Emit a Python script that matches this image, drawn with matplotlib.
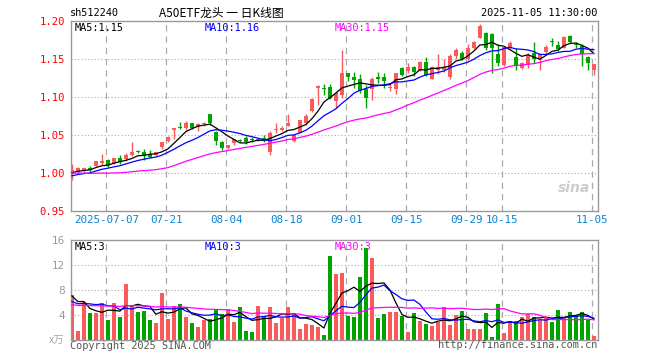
import matplotlib
matplotlib.use("Agg")
import matplotlib.pyplot as plt
import numpy as np
import pandas as pd

# Schriften: Monospace fuer Zahlen, CJK fuer den Titel
plt.rcParams['font.family'] = ['DejaVu Sans Mono', 'Noto Sans CJK SC']

# Handelstage 27.06. - 05.11.2025 (ohne Nationalfeiertage 01.10.-08.10.)
dates = pd.bdate_range("2025-06-27", "2025-11-05")
dates = dates[(dates < "2025-10-01") | (dates > "2025-10-08")]

open_ = [0.998, 1.001, 1.004, 1.006, 1.009, 1.013, 1.017, 1.013, 1.019, 1.0185,
         1.024, 1.029, 1.028, 1.025, 1.024, 1.034, 1.042, 1.057, 1.060, 1.059,
         1.066, 1.060, 1.064, 1.077, 1.054, 1.041, 1.033, 1.039, 1.043, 1.046,
         1.044, 1.043, 1.045, 1.027, 1.056, 1.057, 1.062, 1.042, 1.053, 1.065,
         1.082, 1.112, 1.112, 1.113, 1.094, 1.102, 1.131, 1.126, 1.124, 1.110,
         1.110, 1.126, 1.126, 1.112, 1.111, 1.138, 1.134, 1.140, 1.135, 1.146,
         1.124, 1.135, 1.135, 1.126, 1.154, 1.158, 1.150, 1.165, 1.178, 1.184,
         1.183, 1.157, 1.142, 1.164, 1.152, 1.138, 1.143, 1.158, 1.150, 1.159,
         1.173, 1.168, 1.165, 1.180, 1.170, 1.167, 1.152, 1.136]
high = [1.012, 1.008, 1.008, 1.009, 1.015, 1.025, 1.018, 1.019, 1.023, 1.026,
        1.041, 1.030, 1.031, 1.030, 1.028, 1.041, 1.048, 1.059, 1.067, 1.068,
        1.066, 1.065, 1.067, 1.077, 1.055, 1.042, 1.037, 1.045, 1.045, 1.048,
        1.047, 1.045, 1.050, 1.055, 1.066, 1.062, 1.077, 1.051, 1.070, 1.077,
        1.099, 1.115, 1.117, 1.117, 1.108, 1.162, 1.132, 1.133, 1.130, 1.116,
        1.126, 1.133, 1.131, 1.117, 1.132, 1.140, 1.145, 1.141, 1.147, 1.152,
        1.141, 1.156, 1.150, 1.156, 1.165, 1.161, 1.170, 1.174, 1.196, 1.186,
        1.184, 1.170, 1.167, 1.174, 1.165, 1.146, 1.158, 1.172, 1.158, 1.169,
        1.177, 1.174, 1.180, 1.182, 1.172, 1.170, 1.154, 1.143]
low = [0.990, 0.999, 1.000, 1.001, 1.009, 1.010, 1.008, 1.011, 1.012, 1.016,
       1.022, 1.026, 1.017, 1.019, 1.022, 1.031, 1.040, 1.044, 1.058, 1.057,
       1.058, 1.055, 1.062, 1.063, 1.036, 1.030, 1.031, 1.036, 1.040, 1.038,
       1.040, 1.042, 1.041, 1.024, 1.053, 1.055, 1.061, 1.040, 1.052, 1.063,
       1.080, 1.089, 1.102, 1.097, 1.085, 1.099, 1.121, 1.112, 1.105, 1.086,
       1.096, 1.118, 1.112, 1.108, 1.104, 1.127, 1.131, 1.128, 1.134, 1.127,
       1.123, 1.130, 1.133, 1.124, 1.150, 1.148, 1.148, 1.163, 1.177, 1.162,
       1.131, 1.141, 1.141, 1.163, 1.136, 1.137, 1.138, 1.145, 1.136, 1.157,
       1.167, 1.161, 1.164, 1.171, 1.165, 1.141, 1.136, 1.129]
close = [1.003, 1.006, 1.006, 1.004, 1.015, 1.015, 1.010, 1.019, 1.014, 1.024,
         1.027, 1.028, 1.022, 1.021, 1.027, 1.040, 1.047, 1.059, 1.059, 1.066,
         1.059, 1.064, 1.066, 1.065, 1.042, 1.033, 1.036, 1.044, 1.042, 1.041,
         1.043, 1.044, 1.044, 1.053, 1.058, 1.059, 1.065, 1.050, 1.069, 1.075,
         1.097, 1.114, 1.111, 1.098, 1.105, 1.131, 1.126, 1.122, 1.108, 1.099,
         1.124, 1.124, 1.121, 1.113, 1.131, 1.129, 1.140, 1.133, 1.146, 1.129,
         1.140, 1.140, 1.140, 1.154, 1.162, 1.150, 1.164, 1.172, 1.194, 1.165,
         1.165, 1.144, 1.166, 1.171, 1.141, 1.145, 1.155, 1.150, 1.157, 1.166,
         1.172, 1.163, 1.179, 1.172, 1.169, 1.156, 1.145, 1.143]
# Volumen in 10.000 (万)
volume = [7.25, 1.5, 6.1, 4.4, 4.4, 6.0, 3.2, 6.0, 3.7, 9.0,
          5.6, 4.5, 4.7, 3.25, 2.8, 7.6, 3.4, 5.5, 5.8, 3.7,
          2.8, 2.1, 3.2, 3.4, 5.0, 4.2, 5.0, 2.9, 5.3, 1.5,
          1.3, 5.5, 3.9, 5.3, 2.8, 3.6, 5.3, 4.4, 1.8, 2.6,
          2.5, 2.1, 0.85, 13.5, 10.6, 10.8, 3.9, 3.7, 10.1, 14.8,
          13.2, 3.6, 4.2, 4.5, 4.5, 3.9, 1.3, 4.4, 3.1, 2.6,
          2.3, 2.9, 5.3, 2.5, 4.05, 4.7, 1.8, 1.8, 1.8, 4.4,
          0.5, 5.8, 1.2, 3.1, 3.1, 3.7, 4.2, 3.7, 3.25, 3.7,
          2.9, 4.85, 3.6, 4.5, 4.05, 4.5, 3.25, 0.7]

# geschaetzte Werte vor dem sichtbaren Fenster (nur fuer die gleitenden Durchschnitte)
prior_close = [1.012, 1.010, 1.011, 1.009, 1.010, 1.012, 1.011,
               1.008, 1.006, 1.004, 1.003, 1.002, 1.005, 1.004, 1.003, 1.005,
               0.980, 0.975, 0.978, 0.985,
               0.990, 0.993, 0.995, 0.990, 0.992, 0.996, 1.001, 1.000, 1.000]
prior_volume = [5.2, 6.1, 4.8, 5.5, 5.9, 4.6, 5.3, 6.4, 5.0, 5.7,
                5.1, 5.8, 4.9, 6.2, 5.4, 5.5, 5.0, 5.9, 5.3, 5.4,
                5.0, 5.8, 4.9, 5.6, 5.2, 6.0, 6.1, 9.9, 6.25]

tick_dates = ["2025-07-07", "2025-07-21", "2025-08-04", "2025-08-18", "2025-09-01",
              "2025-09-15", "2025-09-29", "2025-10-15", "2025-11-05"]
tick_labels = ["2025-07-07", "07-21", "08-04", "08-18", "09-01",
               "09-15", "09-29", "10-15", "11-05"]

RED = "#fa5a5a"
GREEN = "#00a300"
GRID = "#aaaaaa"
ma_cfg = [(5, "black"), (10, "#0000ff"), (30, "#ff00ff")]


def moving_averages(prior, values):
    full = pd.Series(list(prior) + list(values))
    return {n: full.rolling(n).mean().values[len(prior):] for n, _ in ma_cfg}


n = len(close)
x = np.arange(n)
o = np.array(open_); c = np.array(close); h = np.array(high); l = np.array(low)
colors = [RED if cc > oo else GREEN for oo, cc in zip(o, c)]
tick_pos = [dates.get_loc(pd.Timestamp(d)) - 0.25 for d in tick_dates]

W, H = 660, 360
fig = plt.figure(figsize=(6.6, 3.6), dpi=100)
fig.patch.set_facecolor("white")


def px_axes(x0, y0, x1, y1):
    return fig.add_axes([x0 / W, 1 - y1 / H, (x1 - x0) / W, (y1 - y0) / H])


ax = px_axes(70.5, 21, 598, 210.7)
axv = px_axes(70.5, 240.3, 598, 340.3)
xlim = (-0.23, 87.68)

for a in (ax, axv):
    a.set_xlim(*xlim)
    for s in a.spines.values():
        s.set_color("#999999")
        s.set_linewidth(1)
    for tp in tick_pos:
        a.axvline(tp, color=GRID, lw=0.9, ls=(0, (5, 4)), zorder=0)
    a.tick_params(length=0)

# Kurs-Panel
ax.set_ylim(0.95, 1.20)
for yv in [1.00, 1.05, 1.10, 1.15]:
    ax.axhline(yv, color=GRID, lw=0.8, ls=(0, (1, 2)), zorder=0)
ax.vlines(x, l, h, colors=colors, lw=1, zorder=2)
body = np.maximum(np.abs(c - o), 0.0013)
ax.bar(x, body, bottom=np.minimum(o, c), width=0.72, color=colors, zorder=3, linewidth=0)
ma_p = moving_averages(prior_close, close)
for nn, col in ma_cfg:
    ax.plot(x, ma_p[nn], color=col, lw=0.9, zorder=4)
ax.set_yticks([0.95, 1.00, 1.05, 1.10, 1.15, 1.20])
ax.set_yticklabels(["0.95", "1.00", "1.05", "1.10", "1.15", "1.20"], color="red", fontsize=7.6)
ax.tick_params(axis="y", pad=4)
ax.set_xticks(tick_pos)
ax.set_xticklabels(tick_labels, color="#0a84d0", fontsize=7.8)
ax.tick_params(axis="x", pad=3)

last = lambda arr: np.floor(arr[-1] * 100) / 100
ax.text(0.008, 0.99, f"MA5:{last(ma_p[5]):.2f}", transform=ax.transAxes, fontsize=7.4, va="top", color="black")
ax.text(0.254, 0.99, f"MA10:{last(ma_p[10]):.2f}", transform=ax.transAxes, fontsize=7.4, va="top", color="#0000ff")
ax.text(0.5, 0.99, f"MA30:{last(ma_p[30]):.2f}", transform=ax.transAxes, fontsize=7.4, va="top", color="#ff00ff")
ax.text(0.985, 0.12, "sina", transform=ax.transAxes, fontsize=10, ha="right", va="center",
        color="#cccccc", style="italic", weight="bold", family="DejaVu Sans")

# Volumen-Panel
axv.set_ylim(0, 16)
for yv in [4, 8, 12]:
    axv.axhline(yv, color=GRID, lw=0.8, ls=(0, (1, 2)), zorder=0)
axv.bar(x, volume, width=0.68, color=colors, linewidth=0, zorder=2)
ma_v = moving_averages(prior_volume, volume)
for nn, col in ma_cfg:
    axv.plot(x, ma_v[nn], color=col, lw=0.9, zorder=3)
axv.set_yticks([4, 8, 12, 16])
axv.set_yticklabels(["4", "8", "12", "16"], color="#999999", fontsize=7.6, family="DejaVu Sans")
axv.tick_params(axis="y", pad=4)
axv.set_xticks([])
axv.text(0.008, 0.985, f"MA5:{int(ma_v[5][-1])}", transform=axv.transAxes, fontsize=7.4, va="top", color="black")
axv.text(0.254, 0.985, f"MA10:{int(ma_v[10][-1])}", transform=axv.transAxes, fontsize=7.4, va="top", color="#0000ff")
axv.text(0.5, 0.985, f"MA30:{int(ma_v[30][-1])}", transform=axv.transAxes, fontsize=7.4, va="top", color="#ff00ff")

# Kopf- und Fusszeilen
fig.text(70 / W, 1 - 13 / H, "sh512240", fontsize=7.4, va="center", ha="left")
fig.text(221 / W, 1 - 13 / H, "A50ETF龙头 一 日K线图", fontsize=8.5, va="center", ha="center",
         family=["Noto Sans CJK SC", "DejaVu Sans"])
fig.text(597 / W, 1 - 13 / H, "2025-11-05 11:30:00", fontsize=7.4, va="center", ha="right")
fig.text(64 / W, 1 - 341 / H, "x万", fontsize=7.5, va="center", ha="right", color="#aaaaaa",
         style="italic", family=["Noto Sans CJK SC", "DejaVu Sans"])
fig.text(70 / W, 1 - 346 / H, "Copyright 2025 SINA.COM", fontsize=7.4, va="center", ha="left", color="#555555")
fig.text(597 / W, 1 - 345 / H, "http://finance.sina.com.cn", fontsize=7.4, va="center", ha="right", color="#555555")

fig.savefig("out.png", dpi=100)
print(f"MA5 {ma_p[5][-1]:.4f} MA10 {ma_p[10][-1]:.4f} MA30 {ma_p[30][-1]:.4f}")
